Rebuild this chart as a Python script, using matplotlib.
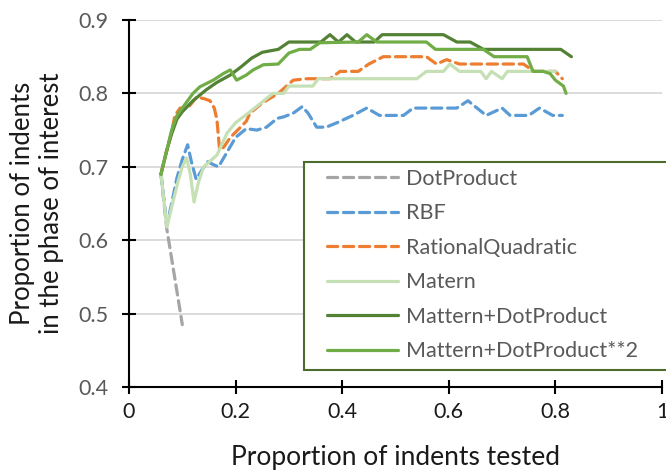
import matplotlib
matplotlib.use("Agg")
import matplotlib.pyplot as plt
from matplotlib.patches import Rectangle

plt.rcParams['font.family'] = ['Lato', 'DejaVu Sans']

# values
dot_x = [0.06, 0.071, 0.08, 0.09, 0.10]
dot_y = [0.69, 0.615, 0.575, 0.53, 0.485]

rbf_x = [0.06, 0.071, 0.08, 0.09, 0.10, 0.11, 0.117, 0.126, 0.137, 0.148, 0.158, 0.168,
         0.184, 0.20, 0.22, 0.24, 0.258, 0.278, 0.29, 0.308, 0.325, 0.336, 0.352, 0.37,
         0.39, 0.42, 0.446, 0.47, 0.515, 0.533, 0.615, 0.636, 0.67, 0.70, 0.715, 0.75,
         0.77, 0.795, 0.813]
rbf_y = [0.69, 0.62, 0.65, 0.685, 0.71, 0.73, 0.707, 0.683, 0.696, 0.707, 0.703, 0.70,
         0.72, 0.74, 0.752, 0.75, 0.754, 0.766, 0.768, 0.773, 0.782, 0.773, 0.754, 0.754,
         0.76, 0.77, 0.78, 0.77, 0.77, 0.78, 0.78, 0.79, 0.77, 0.78, 0.77, 0.77,
         0.78, 0.77, 0.77]

rq_x = [0.06, 0.07, 0.08, 0.086, 0.096, 0.11, 0.127, 0.14, 0.152, 0.16, 0.165, 0.17,
        0.178, 0.19, 0.208, 0.22, 0.227, 0.25, 0.28, 0.308, 0.333, 0.377, 0.396, 0.43,
        0.45, 0.477, 0.558, 0.577, 0.596, 0.62, 0.74, 0.76, 0.80, 0.813]
rq_y = [0.69, 0.72, 0.747, 0.77, 0.78, 0.78, 0.795, 0.793, 0.79, 0.78, 0.764, 0.723,
        0.727, 0.74, 0.753, 0.762, 0.773, 0.787, 0.80, 0.818, 0.82, 0.82, 0.83, 0.83,
        0.84, 0.85, 0.85, 0.84, 0.846, 0.84, 0.84, 0.83, 0.83, 0.82]

mat_x = [0.06, 0.071, 0.08, 0.092, 0.10, 0.108, 0.115, 0.122, 0.13, 0.14, 0.165, 0.184,
         0.20, 0.227, 0.258, 0.27, 0.29, 0.30, 0.345, 0.355, 0.54, 0.558, 0.59, 0.602,
         0.62, 0.66, 0.67, 0.68, 0.70, 0.71, 0.80]
mat_y = [0.69, 0.618, 0.645, 0.68, 0.70, 0.712, 0.69, 0.652, 0.678, 0.70, 0.716, 0.746,
         0.76, 0.775, 0.793, 0.80, 0.80, 0.81, 0.81, 0.82, 0.82, 0.83, 0.83, 0.84,
         0.83, 0.83, 0.82, 0.83, 0.82, 0.83, 0.83]

mdp_x = [0.06, 0.07, 0.08, 0.09, 0.10, 0.12, 0.145, 0.165, 0.19, 0.21, 0.23, 0.25,
         0.28, 0.30, 0.36, 0.377, 0.393, 0.409, 0.425, 0.46, 0.475, 0.59, 0.615, 0.64,
         0.665, 0.81, 0.83]
mdp_y = [0.69, 0.72, 0.745, 0.765, 0.775, 0.79, 0.805, 0.815, 0.825, 0.836, 0.848, 0.856,
         0.86, 0.87, 0.87, 0.88, 0.87, 0.88, 0.87, 0.87, 0.88, 0.88, 0.87, 0.87,
         0.86, 0.86, 0.85]

mdp2_x = [0.06, 0.07, 0.08, 0.09, 0.10, 0.12, 0.133, 0.158, 0.177, 0.19, 0.202, 0.22,
          0.233, 0.252, 0.28, 0.30, 0.32, 0.34, 0.358, 0.43, 0.446, 0.465, 0.558, 0.575,
          0.665, 0.685, 0.747, 0.758, 0.777, 0.79, 0.80, 0.815, 0.82]
mdp2_y = [0.69, 0.72, 0.75, 0.77, 0.78, 0.80, 0.809, 0.818, 0.827, 0.832, 0.818, 0.825,
          0.832, 0.839, 0.84, 0.855, 0.86, 0.86, 0.869, 0.87, 0.88, 0.87, 0.87, 0.86,
          0.86, 0.85, 0.85, 0.83, 0.83, 0.827, 0.818, 0.81, 0.80]

labels = ['DotProduct', 'RBF', 'RationalQuadratic', 'Matern',
          'Mattern+DotProduct', 'Mattern+DotProduct**2']
colors = ['#A5A5A5', '#5B9BD5', '#ED7D31', '#C5E0B4', '#548235', '#70AD47']

series = [(dot_x, dot_y), (rbf_x, rbf_y), (rq_x, rq_y),
          (mat_x, mat_y), (mdp_x, mdp_y), (mdp2_x, mdp2_y)]
dashed = [True, True, True, False, False, False]

fig = plt.figure(figsize=(6.66, 4.74), dpi=100)
ax = fig.add_axes([129 / 666, 1 - 387 / 474, 533 / 666, 367 / 474])

for (xs, ys), lab, col, d in zip(series, labels, colors, dashed):
    if d:
        ax.plot(xs, ys, color=col, lw=2.3, label=lab, dashes=(3.2, 1.8),
                dash_capstyle='round', solid_joinstyle='round', dash_joinstyle='round')
    else:
        ax.plot(xs, ys, color=col, lw=2.3, label=lab,
                solid_capstyle='round', solid_joinstyle='round')

ax.set_xlim(0, 1)
ax.set_ylim(0.4, 0.9)
ax.set_xticks([0, 0.2, 0.4, 0.6, 0.8, 1])
ax.set_xticklabels(['0', '0.2', '0.4', '0.6', '0.8', '1'])
ax.set_yticks([0.4, 0.5, 0.6, 0.7, 0.8, 0.9])
ax.set_yticklabels(['0.4', '0.5', '0.6', '0.7', '0.8', '0.9'])
ax.grid(axis='y', color='#D9D9D9', lw=1.3)
ax.set_axisbelow(True)
for s in ['top', 'right']:
    ax.spines[s].set_visible(False)
for s in ['left', 'bottom']:
    ax.spines[s].set_linewidth(1.5)
    ax.spines[s].set_color('black')
ax.tick_params(direction='inout', length=10, width=1.5, color='black')
ax.tick_params(axis='x', labelsize=15.5, labelcolor='#1a1a1a', pad=6)
ax.tick_params(axis='y', labelsize=15.5, labelcolor='#595959', pad=10)

ax.set_xlabel('Proportion of indents tested', fontsize=19, color='#1a1a1a', labelpad=16)
ax.set_ylabel('Proportion of indents\nin the phase of interest', fontsize=18.5,
              color='#1a1a1a', labelpad=10, linespacing=1.2)

# legend box running off the right edge as in the reference
box = Rectangle((304 / 666, 1 - 370 / 474), 0.6, 208 / 474, transform=fig.transFigure,
                facecolor='white', edgecolor='#4E6B2E', lw=1.5, clip_on=False, zorder=5)
fig.patches.append(box)
leg = fig.legend(loc='upper left', bbox_to_anchor=(327 / 666, 1 - 169 / 474),
                 frameon=False, fontsize=15.5, handlelength=3.3, handletextpad=0.35,
                 labelspacing=0.67, borderpad=0, borderaxespad=0)
leg.set_zorder(6)
for t in leg.get_texts():
    t.set_color('#595959')

fig.savefig('out.png', dpi=100)
